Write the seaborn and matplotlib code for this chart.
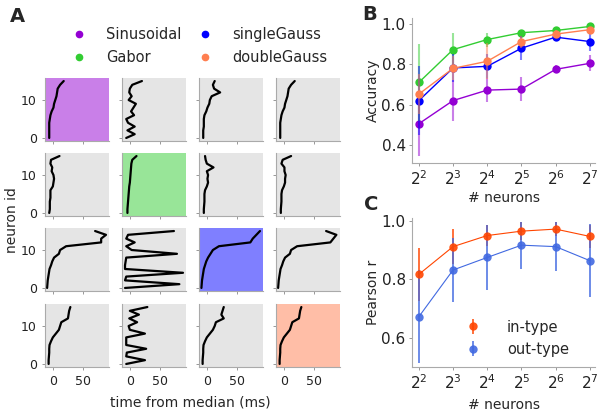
import numpy as np
import pandas as pd
import matplotlib
matplotlib.use("Agg")
import matplotlib.pyplot as plt
from matplotlib.lines import Line2D
import seaborn as sns

# model types and colours
models = ["Sinusoidal", "Gabor", "singleGauss", "doubleGauss"]
colors = ["#9400D3", "#32CD32", "#0000FF", "#FF7F50"]

# panel A: time from median (ms) per neuron id, rows x cols
neuron_ids = list(range(16))
times = [
    [[-6, -6, -6, -6, -6, -5, -4, -2, 1, 2, 4, 6, 7, 8, 12, 18],
     [-6, 8, -4, 8, -3, -6, 7, 2, 6, 10, -2, 3, -1, 0, 4, 20],
     [-6, -6, -6, -5, -5, -5, -4, -1, 1, 4, 5, 8, 22, 12, 10, 13],
     [-6, -6, -6, -6, -6, -5, -4, -2, 1, 2, 4, 6, 7, 8, 12, 18]],
    [[-6, -5, -5, -5, -4, -4, -4, 0, 1, 2, 1, -2, -1, -4, -3, 11],
     [-4, -4, -3.5, -3, -2.5, -2, -1.5, -1, 0, 0.5, 1, 1.5, 2, 2.5, 4, 11],
     [-5, -5, -4.5, -4, -4, -4, -3, 0, 2, 1, 2, 0, 11, 0, -2, -3],
     [-5, -5, -4.5, -4, -4, -4, -3, 0, 2, 2, 3, 1, 1, -4, -2, 12]],
    [[-9.5, -9, -8.5, -7.5, -6.5, -5.5, -3, -1, 2, 10, 12, 22, 80, 80, 88, 70],
     [-8, 82, -8, -6, 88, -8, -8, -7, -6, 78, 3, -6, 8, -6, -3, 73],
     [-9, -8.5, -8, -7, -6, -5, -3, -1, 2, 6, 10, 20, 72, 76, 82, 88],
     [-9.5, -9, -8.5, -7.5, -6.5, -5.5, -3, -1, 2, 10, 12, 22, 77, 82, 87, 70]],
    [[-7, -7, -6.5, -6, -6, -5.5, -3, 0, 5, 10, 12, 14, 25, 26, 27, 29],
     [-6, 25, -6, -5, 27, -6, -6, -6, 25, 0, -2, 12, -1, 15, 0, 29],
     [-7, -7, -6.5, -6, -6, -5.5, -3, 0, 5, 10, 13, 15, 28, 24, 26, 28],
     [-7, -7, -6.5, -6, -6, -5.5, -3, 0, 5, 10, 12, 14, 25, 26, 27, 29]],
]

# panel B: accuracy vs number of neurons
n_neurons = [4, 8, 16, 32, 64, 128]
acc_mean = {
    "Sinusoidal": [0.505, 0.62, 0.672, 0.677, 0.775, 0.805],
    "Gabor": [0.71, 0.873, 0.923, 0.957, 0.968, 0.988],
    "singleGauss": [0.62, 0.782, 0.79, 0.88, 0.935, 0.913],
    "doubleGauss": [0.652, 0.78, 0.815, 0.913, 0.95, 0.972],
}
acc_err = {
    "Sinusoidal": [0.16, 0.1, 0.06, 0.06, 0.02, 0.04],
    "Gabor": [0.19, 0.085, 0.035, 0.015, 0.015, 0.01],
    "singleGauss": [0.17, 0.07, 0.06, 0.06, 0.02, 0.045],
    "doubleGauss": [0.1, 0.06, 0.09, 0.03, 0.02, 0.015],
}

# panel C: pearson r
r_in = [0.817, 0.912, 0.95, 0.965, 0.972, 0.947]
r_in_err = [0.09, 0.06, 0.035, 0.03, 0.025, 0.04]
r_out = [0.672, 0.832, 0.875, 0.917, 0.912, 0.864]
r_out_err = [0.16, 0.11, 0.11, 0.08, 0.085, 0.125]

sns.set_theme(style="ticks")
plt.rcParams["font.family"] = ["DejaVu Sans"]

W, H = 598, 416
fig = plt.figure(figsize=(W / 100, H / 100), dpi=100)


def rect(left, top, right, bottom):
    return [left / W, 1 - bottom / H, (right - left) / W, (bottom - top) / H]


def style_spines(ax):
    sns.despine(ax=ax)
    for s in ["left", "bottom"]:
        ax.spines[s].set_color("#aaaaaa")
        ax.spines[s].set_linewidth(0.8)
    ax.tick_params(colors="#888888", labelcolor="#222222", length=2.5, width=0.6)


# --- panel A grid
col_left = [45, 122, 199, 276]
row_top = [78, 153, 228, 304]
for i in range(4):
    for j in range(4):
        ax = fig.add_axes(rect(col_left[j], row_top[i], col_left[j] + 64, row_top[i] + 63))
        if i == j:
            ax.set_facecolor(matplotlib.colors.to_rgba(colors[i], 0.5))
        else:
            ax.set_facecolor("#e5e5e5")
        df = pd.DataFrame({"t": times[i][j], "n": neuron_ids})
        sns.lineplot(data=df, x="t", y="n", sort=False, estimator=None,
                     color="black", lw=1.6, ax=ax)
        ax.set_xlim(-13, 93)
        ax.set_ylim(-0.8, 15.8)
        ax.set_xticks([0, 50])
        ax.set_yticks([0, 10])
        ax.set_xlabel("")
        ax.set_ylabel("")
        style_spines(ax)
        ax.tick_params(labelsize=9)
        if j != 0:
            ax.set_yticklabels([])
        if i != 3:
            ax.set_xticklabels([])

fig.text(12 / W, 1 - 220 / H, "neuron id", rotation=90, ha="center", va="center", fontsize=10)
fig.text(190 / W, 1 - 402 / H, "time from median (ms)", ha="center", va="center", fontsize=10)
fig.text(10 / W, 1 - 17 / H, "A", fontsize=14, fontweight="bold", ha="left", va="center")
fig.text(362 / W, 1 - 15 / H, "B", fontsize=14, fontweight="bold", ha="left", va="center")
fig.text(364 / W, 1 - 204 / H, "C", fontsize=14, fontweight="bold", ha="left", va="center")

handles = [Line2D([], [], marker="o", ls="none", color=c, markersize=4.5) for c in colors]
fig.legend(handles, models, ncol=2, frameon=False, fontsize=10.5,
           loc="center", bbox_to_anchor=(196 / W, 1 - 46 / H),
           handlelength=2.0, handletextpad=0.85, columnspacing=0.6,
           labelspacing=0.5)

# --- panel B
axB = fig.add_axes(rect(412, 18, 595, 163))
for m, c in zip(models, colors):
    axB.errorbar(n_neurons, acc_mean[m], yerr=acc_err[m], fmt="none",
                 ecolor=c, alpha=0.5, elinewidth=1.5)
    sns.lineplot(x=n_neurons, y=acc_mean[m], color=c, lw=1, marker="o",
                 markersize=6, markeredgewidth=0, ax=axB)
axB.set_xscale("log", base=2)
axB.set_xlim(2 ** 1.8, 2 ** 7.15)
axB.set_ylim(0.31, 1.03)
axB.set_yticks([0.4, 0.6, 0.8, 1.0])
axB.set_xticks(n_neurons)
axB.set_ylabel("Accuracy", fontsize=10, labelpad=1)
axB.set_xlabel("# neurons", fontsize=10, labelpad=2)
style_spines(axB)
axB.tick_params(labelsize=11, pad=2)
axB.minorticks_off()

# --- panel C
axC = fig.add_axes(rect(412, 218, 595, 367))
for vals, errs, c, lab in [(r_in, r_in_err, "#FF4500", "in-type"),
                           (r_out, r_out_err, "#4169E1", "out-type")]:
    axC.errorbar(n_neurons, vals, yerr=errs, fmt="o", color=c, ecolor=c,
                 alpha=0.9, elinewidth=1.2, markersize=6, markeredgewidth=0, label=lab)
    sns.lineplot(x=n_neurons, y=vals, color=c, lw=0.8, ax=axC)
axC.set_xscale("log", base=2)
axC.set_xlim(2 ** 1.8, 2 ** 7.15)
axC.set_ylim(0.5, 1.01)
axC.set_yticks([0.6, 0.8, 1.0])
axC.set_xticks(n_neurons)
axC.set_ylabel("Pearson r", fontsize=10, labelpad=1)
axC.set_xlabel("# neurons", fontsize=10, labelpad=4)
style_spines(axC)
axC.tick_params(labelsize=11, pad=2)
axC.minorticks_off()
axC.legend(loc="lower right", frameon=False, fontsize=10.5, bbox_to_anchor=(0.93, -0.02),
           handletextpad=1.35, labelspacing=0.5)

fig.savefig("out.png", dpi=100)
